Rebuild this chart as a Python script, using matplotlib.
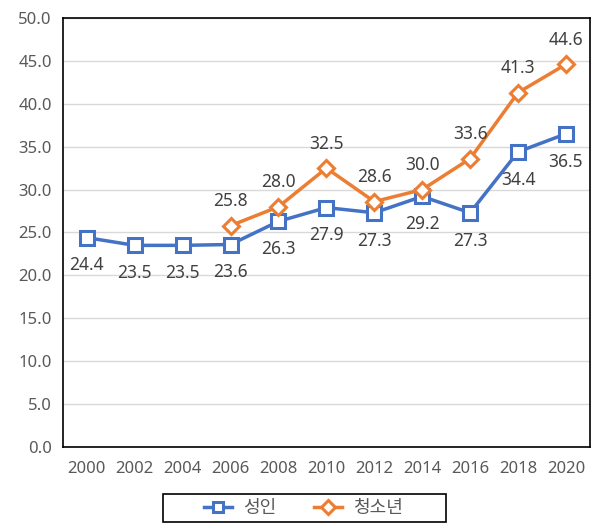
import numpy as np
import matplotlib
matplotlib.use('Agg')
import matplotlib.pyplot as plt
import matplotlib.patches as pch

plt.rcParams['font.family'] = ['Noto Sans', 'Noto Sans CJK KR', 'DejaVu Sans']

years = ['2000', '2002', '2004', '2006', '2008', '2010', '2012', '2014', '2016', '2018', '2020']
adult = [24.4, 23.5, 23.5, 23.6, 26.3, 27.9, 27.3, 29.2, 27.3, 34.4, 36.5]
youth = [np.nan, np.nan, np.nan, 25.8, 28.0, 32.5, 28.6, 30.0, 33.6, 41.3, 44.6]

BLUE = '#4472C4'
ORANGE = '#ED7D31'
TEXT = '#404040'
TICK = '#595959'

fig = plt.figure(figsize=(6.05, 5.29), dpi=100)
ax = fig.add_axes([0.104, 0.155, 0.871, 0.811])

x = np.arange(len(years))
ax.plot(x, adult, color=BLUE, lw=2.5, marker='s', ms=9.5, mfc='white', mec=BLUE, mew=2.2,
        label='성인', zorder=3)
ax.plot(x, youth, color=ORANGE, lw=2.5, marker='D', ms=8.5, mfc='white', mec=ORANGE, mew=2.2,
        label='청소년', zorder=3)

for xi, v in zip(x, adult):
    ax.annotate(f'{v:.1f}', (xi, v), xytext=(0, -20), textcoords='offset points',
                ha='center', va='center', fontsize=12.5, color=TEXT)
for xi, v in zip(x, youth):
    if not np.isnan(v):
        ax.annotate(f'{v:.1f}', (xi, v), xytext=(0, 17.5), textcoords='offset points',
                    ha='center', va='center', fontsize=12.5, color=TEXT)

ax.set_xlim(-0.5, len(years) - 0.5)
ax.set_ylim(0, 50)
ax.set_yticks(np.arange(0, 51, 5))
ax.set_yticklabels([f'{v:.1f}' for v in np.arange(0, 51, 5)])
ax.set_xticks(x)
ax.set_xticklabels(years)
ax.tick_params(length=0, labelsize=12, colors=TICK)
ax.tick_params(axis='x', pad=10)
ax.tick_params(axis='y', pad=8)
ax.grid(axis='y', color='#d9d9d9', lw=1)
ax.set_axisbelow(True)
for s in ax.spines.values():
    s.set_color('black')
    s.set_linewidth(1.2)

# legend box drawn separately (wide horizontal padding like the original)
fig.patches.append(pch.Rectangle((163 / 605, 1 - 522 / 529), 283 / 605, 28 / 529,
                                 transform=fig.transFigure, fill=False,
                                 edgecolor='black', lw=1.2))
leg = fig.legend(loc='center', bbox_to_anchor=(0.502, 0.04), ncol=2, fontsize=13,
                 frameon=False, handlelength=1.55, columnspacing=2.1,
                 handletextpad=0.6, borderpad=0, borderaxespad=0)
for t in leg.get_texts():
    t.set_color(TICK)
for h in leg.legend_handles:
    h.set_markersize(7)

fig.savefig('out.png', dpi=100)
